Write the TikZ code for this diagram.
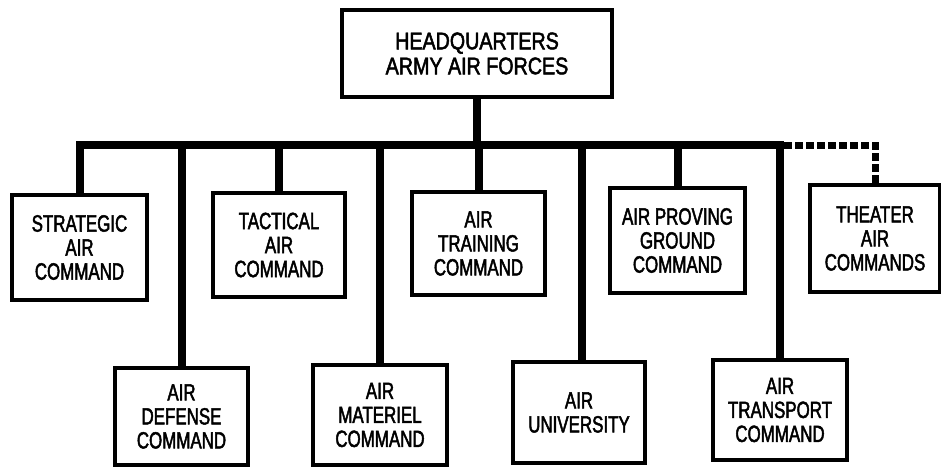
\documentclass[tikz,border=0pt]{standalone}
\usepackage{fontspec}
\setmainfont{Liberation Sans}[FakeStretch=0.72,FakeBold=2]
\newfontfamily\hqfont{Liberation Sans}[FakeStretch=0.82,FakeBold=2]
\begin{document}
\begin{tikzpicture}[x=1pt,y=-1pt,
  unit/.style={draw,line width=3.5pt,rectangle,align=center,inner sep=0pt,
    font=\fontsize{23.5}{24}\selectfont},
  link/.style={line width=8pt,line join=miter},
  dlink/.style={line width=7pt,dash pattern=on 8pt off 3pt,line join=miter}]
\useasboundingbox (0,0) rectangle (941,468);
\node[unit,minimum width=270pt,minimum height=87pt,font=\hqfont\fontsize{24}{25}\selectfont] (hq) at (477,53.5) {HEADQUARTERS\\ARMY AIR FORCES};
\node[unit,minimum width=135pt,minimum height=105pt] (sac) at (79.5,247.5) {STRATEGIC\\AIR\\COMMAND};
\node[unit,minimum width=132pt,minimum height=104pt] (tac) at (279,245) {TACTICAL\\AIR\\COMMAND};
\node[unit,minimum width=133pt,minimum height=103pt] (atc) at (478.5,243.5) {AIR\\TRAINING\\COMMAND};
\node[unit,minimum width=135pt,minimum height=105pt] (apg) at (677.5,240.5) {AIR PROVING\\GROUND\\COMMAND};
\node[unit,minimum width=130pt,minimum height=107pt] (tac2) at (875,238.5) {THEATER\\AIR\\COMMANDS};
\node[unit,minimum width=133pt,minimum height=97pt] (adc) at (181.5,416.5) {AIR\\DEFENSE\\COMMAND};
\node[unit,minimum width=134pt,minimum height=100pt] (amc) at (380,415) {AIR\\MATERIEL\\COMMAND};
\node[unit,minimum width=132pt,minimum height=101pt] (au) at (579,412.5) {AIR\\UNIVERSITY};
\node[unit,minimum width=134pt,minimum height=100pt] (atr) at (780,410) {AIR\\TRANSPORT\\COMMAND};
\coordinate (bus) at (0,145);
\draw[link] (sac.north) -- (sac.north |- bus) -- (atr.north |- bus) -- (atr.north);
\draw[link] (hq.south) -- (hq.south |- bus);
\draw[link] (adc.north) -- (adc.north |- bus);
\draw[link] (tac.north) -- (tac.north |- bus);
\draw[link] (amc.north) -- (amc.north |- bus);
\draw[link] (atc.north) -- (atc.north |- bus);
\draw[link] ([xshift=3pt]au.north) -- ([xshift=3pt]au.north |- bus);
\draw[link] (apg.north) -- (apg.north |- bus);
\draw[dlink] ([xshift=4pt]atr.north |- bus) -- (tac2.north |- bus) -- (tac2.north);
\end{tikzpicture}
\end{document}
